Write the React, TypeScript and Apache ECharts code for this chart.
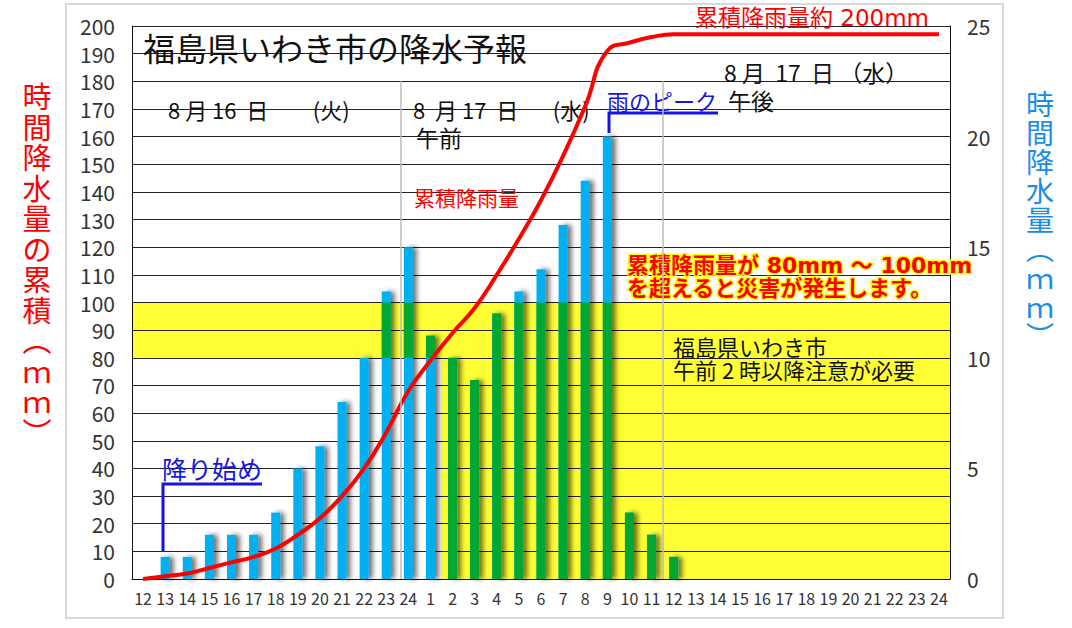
import React, { useEffect, useRef } from 'react';
import * as echarts from 'echarts';

// ---- data ----
const categories = [
  '12', '13', '14', '15', '16', '17', '18', '19', '20', '21', '22', '23', '24',
  '1', '2', '3', '4', '5', '6', '7', '8', '9', '10', '11', '12', '13', '14', '15',
  '16', '17', '18', '19', '20', '21', '22', '23', '24',
];
// hourly precipitation (mm), right axis
const hourlyRain = [
  0, 1, 1, 2, 2, 2, 3, 5, 6, 8, 10, 13, 15,
  11, 10, 9, 12, 13, 14, 16, 18, 20, 3, 2, 1, 0, 0,
  0, 0, 0, 0, 0, 0, 0, 0, 0, 0,
];
// cumulative precipitation (mm), left axis
const cumulativeRain = [
  0, 1, 2, 4, 6, 8, 11, 16, 22, 30, 40, 53, 68,
  79, 89, 98, 110, 123, 137, 153, 171, 191, 194, 196, 197, 197, 197,
  197, 197, 197, 197, 197, 197, 197, 197, 197, 197,
];
const leftAxis = { min: 0, max: 200, interval: 10 };
const rightAxis = { min: 0, max: 25, interval: 5 };
const warningBand = [80, 100]; // cumulative mm
const cautionStartIndex = 14; // from 2 o'clock on 8/17
const dayDividers = [12.15, 24];

const FONT = '"Noto Sans CJK JP", "Noto Sans", sans-serif';
const FONT_WIDE = '"DejaVu Sans", "Noto Sans CJK JP", sans-serif';
const BLUE = '#00b0f0';
const GREEN = '#00a832';
const YELLOW = '#ffff33';

// green overlay: the part of each bar lying on the yellow background
const ratio = leftAxis.max / rightAxis.max;
const bandLo = warningBand[0] / ratio;
const bandHi = warningBand[1] / ratio;
const greenBase: number[] = [];
const greenSeg: number[] = [];
hourlyRain.forEach((v, i) => {
  const lo = i >= cautionStartIndex ? 0 : bandLo;
  const hi = Math.min(v, bandHi);
  const seg = Math.max(hi - lo, 0);
  greenBase.push(seg > 0 ? lo : 0);
  greenSeg.push(seg);
});

function txt(text: string, x: number, y: number, size: number, color: string, extra: any = {}) {
  const align = extra.align || 'left';
  const valign = extra.valign || 'middle';
  return {
    type: 'text',
    z: 2.5,
    silent: true,
    style: {
      text,
      x,
      y,
      fill: color,
      fontSize: size,
      fontFamily: extra.family || FONT,
      fontWeight: extra.weight || 'normal',
      textAlign: align,
      align,
      textVerticalAlign: valign,
      verticalAlign: valign,
      lineHeight: extra.lineHeight,
      stroke: extra.stroke,
      lineWidth: extra.lineWidth,
    },
  };
}

export default function App() {
  const ref = useRef<HTMLDivElement>(null);
  useEffect(() => {
    if (!ref.current) return;
    const chart = echarts.init(ref.current, null, { renderer: 'svg' });
    const axisLabelBase = { color: '#333', fontFamily: FONT };
    const option: any = {
      animation: false,
      backgroundColor: '#ffffff',
      grid: { left: 132, right: 122, top: 26, bottom: 49, containLabel: false },
      xAxis: [
        {
          type: 'category',
          data: categories,
          boundaryGap: true,
          z: 1.5,
          axisLine: { show: true, lineStyle: { color: '#111', width: 1 } },
          axisTick: { show: false },
          axisLabel: { ...axisLabelBase, interval: 0, fontSize: 16, margin: 11, hideOverlap: false },
          splitLine: { show: false },
        },
        { type: 'value', min: 0, max: categories.length, show: false },
      ],
      yAxis: [
        {
          type: 'value',
          ...leftAxis,
          z: 1.5,
          axisLine: { show: true, lineStyle: { color: '#111', width: 1 } },
          axisTick: { show: false },
          axisLabel: { ...axisLabelBase, fontSize: 21, margin: 17 },
          splitLine: { show: true, lineStyle: { color: '#222', width: 1 } },
        },
        {
          type: 'value',
          ...rightAxis,
          position: 'right',
          z: 1.5,
          axisLine: { show: true, lineStyle: { color: '#111', width: 1 } },
          axisTick: { show: false },
          axisLabel: { ...axisLabelBase, fontSize: 21, margin: 17 },
          splitLine: { show: false },
        },
      ],
      series: [
        {
          type: 'line',
          xAxisIndex: 1,
          yAxisIndex: 0,
          data: [],
          silent: true,
          markArea: {
            silent: true,
            itemStyle: { color: YELLOW },
            label: { show: false },
            data: [
              [{ xAxis: 0, yAxis: warningBand[0] }, { xAxis: categories.length, yAxis: warningBand[1] }],
              [{ xAxis: cautionStartIndex, yAxis: 0 }, { xAxis: categories.length, yAxis: warningBand[0] }],
            ],
          },
          markLine: {
            silent: true,
            symbol: ['none', 'none'],
            label: { show: false },
            lineStyle: { color: '#bdbdbd', width: 1.5, type: 'solid' },
            data: dayDividers.map((d) => [{ coord: [d, 0] }, { coord: [d, 180] }]),
          },
        },
        {
          name: '時間降水量',
          type: 'bar',
          xAxisIndex: 0,
          yAxisIndex: 1,
          data: hourlyRain,
          barWidth: 9,
          barGap: '-100%',
          z: 2,
          itemStyle: {
            color: BLUE,
            shadowColor: 'rgba(0,0,0,0.55)',
            shadowBlur: 5,
            shadowOffsetX: 4,
          },
        },
        {
          type: 'bar',
          xAxisIndex: 0,
          yAxisIndex: 1,
          stack: 'g',
          data: greenBase,
          barWidth: 9,
          barGap: '-100%',
          z: 2,
          silent: true,
          itemStyle: { color: 'rgba(0,0,0,0)' },
        },
        {
          type: 'bar',
          xAxisIndex: 0,
          yAxisIndex: 1,
          stack: 'g',
          data: greenSeg,
          barWidth: 9,
          barGap: '-100%',
          z: 2,
          itemStyle: { color: GREEN },
        },
        {
          name: '累積降雨量',
          type: 'line',
          xAxisIndex: 0,
          yAxisIndex: 0,
          data: cumulativeRain,
          smooth: 0.5,
          showSymbol: false,
          symbol: 'none',
          z: 3,
          lineStyle: { color: '#ff0000', width: 4 },
        },
      ],
      graphic: [
        {
          type: 'rect',
          z: 0,
          silent: true,
          shape: { x: 66, y: 4, width: 937, height: 614 },
          style: { fill: null, stroke: '#d9d9d9', lineWidth: 2 },
        },
        txt('時\n間\n降\n水\n量\nの\n累\n積\n︵\nｍ\nｍ\n︶', 37, 80, 29, '#ff0000', { align: 'center', valign: 'top', lineHeight: 30.5 }),
        txt('時\n間\n降\n水\n量\n︵\nｍ\nｍ\n︶', 1040, 88, 28, '#1a8ee6', { align: 'center', valign: 'top', lineHeight: 29 }),
        txt('福島県いわき市の降水予報', 143, 47, 32, '#111'),
        txt('8 月 16  日         (火)', 168, 109, 22, '#111'),
        txt('8  月 17  日       (水)', 413, 109, 22, '#111'),
        txt('午前', 416, 137, 23, '#111'),
        txt('雨のピーク', 607, 100, 22, '#1414e6'),
        txt('午後', 728, 100, 23, '#111'),
        txt('8 月  17  日 （水）', 724, 72, 23, '#111'),
        txt('累積降雨量約 200mm', 695, 18, 23, '#ff0000', { family: FONT_WIDE }),
        txt('累積降雨量', 414, 197, 21, '#ff0000'),
        txt('累積降雨量が 80mm 〜 100mm\nを超えると災害が発生します。', 627, 277, 22, '#ff0000', {
          lineHeight: 23,
          stroke: '#ffff00',
          lineWidth: 3,
          weight: 'bold',
          family: FONT_WIDE,
        }),
        txt('福島県いわき市', 673, 346, 22, '#111'),
        txt('午前 2 時以降注意が必要', 673, 369, 22, '#111'),
        txt('降り始め', 162, 468, 25, '#1414e6'),
        {
          type: 'polyline',
          z: 2.5,
          silent: true,
          shape: { points: [[163, 552], [163, 484], [262, 484]] },
          style: { stroke: '#1414e6', lineWidth: 3, fill: null },
        },
        {
          type: 'polyline',
          z: 2.5,
          silent: true,
          shape: { points: [[609, 133], [609, 113], [718, 113]] },
          style: { stroke: '#1414e6', lineWidth: 3, fill: null },
        },
      ],
    };
    chart.setOption(option);
    return () => chart.dispose();
  }, []);
  return (
    <div
      ref={ref}
      style={{ position: 'fixed', left: 0, top: 0, width: 1072, height: 628, background: '#fff' }}
    />
  );
}
